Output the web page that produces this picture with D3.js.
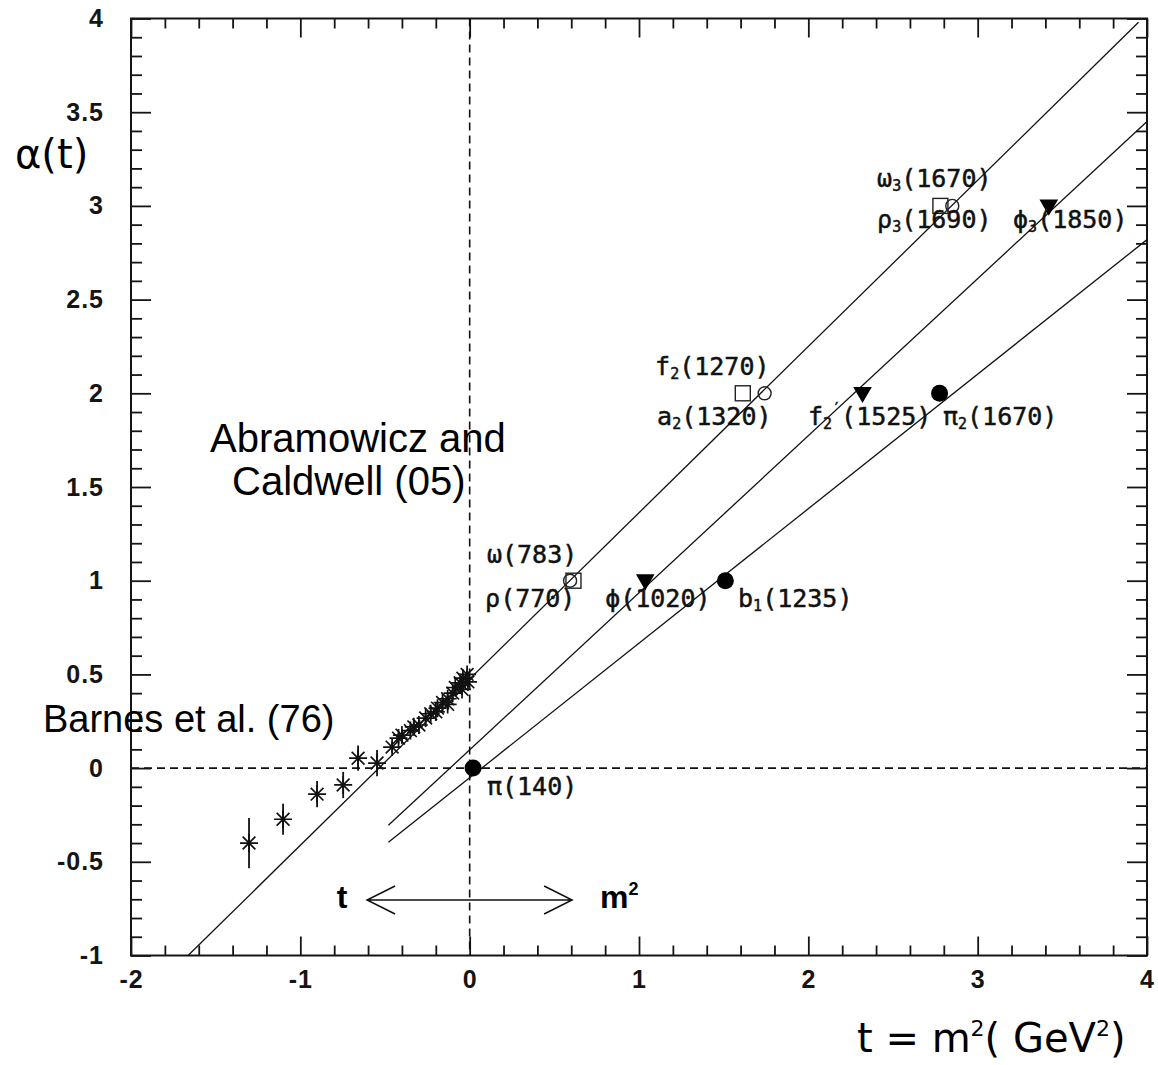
<!DOCTYPE html>
<html>
<head>
<meta charset="utf-8">
<title>Regge trajectories</title>
<script src="https://d3js.org/d3.v7.min.js"></script>
<style>
  html, body { margin:0; padding:0; background:#fff; overflow:hidden }
  svg { display:block }
  .axis .tick text { font-family:"Liberation Sans", Arial, sans-serif; font-weight:bold; font-size:25px; fill:#151515; letter-spacing:1px }
  .axis .tick line { stroke:#151515; stroke-width:1.8 }
  .lbl { font-family:"DejaVu Sans Mono", monospace; font-size:25px; fill:#111; stroke:#111; stroke-width:0.5 }
  .note { font-family:"Liberation Sans", Arial, sans-serif; fill:#000 }
</style>
</head>
<body>
<svg></svg>
<script>
// axis ticks
const xTicks = [-2, -1, 0, 1, 2, 3, 4];
const yTicks = [-1, -0.5, 0, 0.5, 1, 1.5, 2, 2.5, 3, 3.5, 4];

// Barnes et al. (76) points: t, alpha, error
const barnesT = [-1.303, -1.102, -0.901, -0.747, -0.659, -0.547, -0.458, -0.42, -0.40, -0.35, -0.33, -0.30,
                 -0.26, -0.23, -0.20, -0.19, -0.16, -0.13, -0.13, -0.10, -0.085, -0.056, -0.045, -0.04, -0.015, -0.01];
const barnesA = [-0.40, -0.273, -0.139, -0.09, 0.053, 0.027, 0.112, 0.16, 0.176, 0.20, 0.22, 0.23,
                 0.267, 0.29, 0.30, 0.32, 0.35, 0.34, 0.37, 0.40, 0.43, 0.455, 0.42, 0.48, 0.50, 0.46];
const barnesErr = [0.134, 0.083, 0.07, 0.07, 0.067, 0.07, 0.03, 0.03, 0.03, 0.03, 0.03, 0.03,
                   0.03, 0.03, 0.03, 0.03, 0.03, 0.03, 0.03, 0.03, 0.03, 0.03, 0.03, 0.03, 0.03, 0.03];

// mesons (m^2, spin)
const omegaT = [0.613, 1.613, 2.78];   const omegaA = [1, 2, 3];   // open squares
const rhoT   = [0.593, 1.742, 2.85];   const rhoA   = [1, 2, 3];   // open circles
const phiT   = [1.037, 2.32, 3.42];    const phiA   = [1, 2, 3];   // filled triangles
const piT    = [0.02, 1.51, 2.775];    const piA    = [0, 1, 2];   // filled circles

// trajectory lines (end points)
const rhoLine = [[-1.663, -1], [3.95, 3.98]];
const phiLine = [[-0.48, -0.305], [4, 3.45]];
const piLine  = [[-0.48, -0.396], [4, 2.82]];

// particle labels
const labels = [
  {name: "ω", sub: "",  prime: false, mass: "(783)",  t: 0.102, a: 1.094},
  {name: "ρ", sub: "",  prime: false, mass: "(770)",  t: 0.091, a: 0.860},
  {name: "ϕ", sub: "",  prime: false, mass: "(1020)", t: 0.800, a: 0.860},
  {name: "b", sub: "1", prime: false, mass: "(1235)", t: 1.585, a: 0.860},
  {name: "f", sub: "2", prime: false, mass: "(1270)", t: 1.095, a: 2.098},
  {name: "a", sub: "2", prime: false, mass: "(1320)", t: 1.107, a: 1.831},
  {name: "f", sub: "2", prime: true,  mass: "(1525)", t: 1.998, a: 1.831},
  {name: "π", sub: "2", prime: false, mass: "(1670)", t: 2.795, a: 1.831},
  {name: "ω", sub: "3", prime: false, mass: "(1670)", t: 2.406, a: 3.101},
  {name: "ρ", sub: "3", prime: false, mass: "(1690)", t: 2.406, a: 2.882},
  {name: "ϕ", sub: "3", prime: false, mass: "(1850)", t: 3.209, a: 2.882},
  {name: "π", sub: "",  prime: false, mass: "(140)",  t: 0.102, a: -0.144}
];

const notes = [
  {text: "Abramowicz and", t: -1.533, a: 1.687, size: 40},
  {text: "Caldwell (05)", t: -1.403, a: 1.457, size: 40},
  {text: "Barnes et al. (76)", t: -2.52, a: 0.193, size: 38}
];

const arrowSpan = [-0.606, 0.605];
const arrowLevel = -0.704;

const width = 1158, height = 1065;
const margin = {top: 18.5, right: 11, bottom: 109.5, left: 131};

const x = d3.scaleLinear().domain([-2, 4]).range([margin.left, width - margin.right]);
const y = d3.scaleLinear().domain([-1, 4]).range([height - margin.bottom, margin.top]);

const svg = d3.select("svg").attr("width", width).attr("height", height);

const xMinor = d3.range(-2, 4.001, 0.2).filter(v => Math.abs(v - Math.round(v)) > 1e-6);
const yMinor = d3.range(-1, 4.001, 0.1).filter(v => Math.abs(v * 2 - Math.round(v * 2)) > 1e-6);

function axisGroup(axis, tr) {
  svg.append("g").attr("class", "axis").attr("transform", tr).call(axis)
    .call(g => g.select(".domain").remove());
}

// bottom
axisGroup(d3.axisBottom(x).tickValues(xTicks).tickSize(-19).tickPadding(15).tickFormat(d => String(d)), `translate(0,${y(-1)})`);
axisGroup(d3.axisBottom(x).tickValues(xMinor).tickSize(-10).tickFormat(""), `translate(0,${y(-1)})`);
// top
axisGroup(d3.axisTop(x).tickValues(xTicks).tickSize(-19).tickFormat(""), `translate(0,${y(4)})`);
axisGroup(d3.axisTop(x).tickValues(xMinor).tickSize(-10).tickFormat(""), `translate(0,${y(4)})`);
// left
axisGroup(d3.axisLeft(y).tickValues(yTicks).tickSize(-20).tickPadding(27).tickFormat(d => String(d)), `translate(${x(-2)},0)`);
axisGroup(d3.axisLeft(y).tickValues(yMinor).tickSize(-11).tickFormat(""), `translate(${x(-2)},0)`);
// right
axisGroup(d3.axisRight(y).tickValues(yTicks).tickSize(-20).tickFormat(""), `translate(${x(4)},0)`);
axisGroup(d3.axisRight(y).tickValues(yMinor).tickSize(-11).tickFormat(""), `translate(${x(4)},0)`);

// frame
svg.append("rect")
  .attr("x", x(-2)).attr("y", y(4))
  .attr("width", x(4) - x(-2)).attr("height", y(-1) - y(4))
  .attr("fill", "none").attr("stroke", "#151515").attr("stroke-width", 2);

// dashed zero lines
svg.append("line")
  .attr("x1", x(0)).attr("x2", x(0)).attr("y1", y(4)).attr("y2", y(-1))
  .attr("stroke", "#111").attr("stroke-width", 1.6).attr("stroke-dasharray", "8,5");
svg.append("line")
  .attr("x1", x(-2)).attr("x2", x(4)).attr("y1", y(0)).attr("y2", y(0))
  .attr("stroke", "#111").attr("stroke-width", 1.6).attr("stroke-dasharray", "8,5");

// trajectories
const line = d3.line().x(d => x(d[0])).y(d => y(d[1]));
svg.selectAll(".traj")
  .data([rhoLine, phiLine, piLine])
  .enter()
  .append("path")
  .attr("class", "traj")
  .attr("d", line)
  .attr("fill", "none")
  .attr("stroke", "#111")
  .attr("stroke-width", 1.3);

// Barnes points: error bars + asterisks
const barnes = barnesT.map((t, i) => ({t: t, a: barnesA[i], e: barnesErr[i]}));
svg.selectAll(".err")
  .data(barnes)
  .enter()
  .append("line")
  .attr("x1", d => x(d.t)).attr("x2", d => x(d.t))
  .attr("y1", d => y(d.a - d.e)).attr("y2", d => y(d.a + d.e))
  .attr("stroke", "#111").attr("stroke-width", 1.8);

function asterisk(cx, cy, r) {
  const p = d3.path();
  const k = r * Math.SQRT1_2;
  p.moveTo(cx - r, cy); p.lineTo(cx + r, cy);
  p.moveTo(cx, cy - r); p.lineTo(cx, cy + r);
  p.moveTo(cx - k, cy - k); p.lineTo(cx + k, cy + k);
  p.moveTo(cx - k, cy + k); p.lineTo(cx + k, cy - k);
  return p.toString();
}
svg.selectAll(".star")
  .data(barnes)
  .enter()
  .append("path")
  .attr("d", d => asterisk(x(d.t), y(d.a), 9))
  .attr("stroke", "#111").attr("stroke-width", 1.7).attr("fill", "none");

// meson markers
const omegas = omegaT.map((t, i) => ({t: t, a: omegaA[i]}));
const rhos = rhoT.map((t, i) => ({t: t, a: rhoA[i]}));
const phis = phiT.map((t, i) => ({t: t, a: phiA[i]}));
const pis = piT.map((t, i) => ({t: t, a: piA[i]}));

svg.selectAll(".sq")
  .data(omegas)
  .enter()
  .append("rect")
  .attr("x", d => x(d.t) - 7.5).attr("y", d => y(d.a) - 7.5)
  .attr("width", 15).attr("height", 15)
  .attr("fill", "none").attr("stroke", "#222").attr("stroke-width", 1.4);

svg.selectAll(".oc")
  .data(rhos)
  .enter()
  .append("circle")
  .attr("cx", d => x(d.t)).attr("cy", d => y(d.a)).attr("r", 6.5)
  .attr("fill", "none").attr("stroke", "#222").attr("stroke-width", 1.4);

svg.selectAll(".tri")
  .data(phis)
  .enter()
  .append("path")
  .attr("d", d3.symbol(d3.symbolTriangle, 150))
  .attr("transform", d => `translate(${x(d.t)},${y(d.a) - 1}) rotate(180)`)
  .attr("fill", "#000");

svg.selectAll(".fc")
  .data(pis)
  .enter()
  .append("circle")
  .attr("cx", d => x(d.t)).attr("cy", d => y(d.a)).attr("r", 8.5)
  .attr("fill", "#000");

// particle labels
svg.selectAll(".lbl")
  .data(labels)
  .enter()
  .append("text")
  .attr("class", "lbl")
  .attr("x", d => x(d.t))
  .attr("y", d => y(d.a))
  .each(function(d) {
    const txt = d3.select(this);
    let shift = 0;
    txt.append("tspan").text(d.name);
    if (d.sub) {
      txt.append("tspan").attr("font-size", 15).attr("dy", 4).text(d.sub);
      shift += 4;
    }
    if (d.prime) {
      txt.append("tspan").attr("font-size", 15).attr("dy", -15).text("′");
      shift -= 15;
    }
    txt.append("tspan").attr("dy", -shift).text(d.mass);
  });

// literature notes
svg.selectAll(".note")
  .data(notes)
  .enter()
  .append("text")
  .attr("class", "note")
  .attr("x", d => x(d.t))
  .attr("y", d => y(d.a))
  .attr("font-size", d => d.size)
  .text(d => d.text);

// t <-> m^2 arrow
const ay = y(arrowLevel);
const ax0 = x(arrowSpan[0]), ax1 = x(arrowSpan[1]);
const arr = d3.path();
arr.moveTo(ax0, ay); arr.lineTo(ax1, ay);
arr.moveTo(ax0 + 28, ay - 14); arr.lineTo(ax0, ay); arr.lineTo(ax0 + 28, ay + 14);
arr.moveTo(ax1 - 28, ay - 14); arr.lineTo(ax1, ay); arr.lineTo(ax1 - 28, ay + 14);
svg.append("path").attr("d", arr.toString())
  .attr("fill", "none").attr("stroke", "#111").attr("stroke-width", 1.5);

svg.append("text")
  .attr("x", x(-0.754)).attr("y", y(-0.747))
  .attr("text-anchor", "middle")
  .attr("font-family", "Liberation Sans, Arial, sans-serif")
  .attr("font-weight", "bold").attr("font-size", 32)
  .text("t");
const m2 = svg.append("text")
  .attr("x", x(0.770)).attr("y", y(-0.747))
  .attr("font-family", "Liberation Sans, Arial, sans-serif")
  .attr("font-weight", "bold").attr("font-size", 32);
m2.append("tspan").text("m");
m2.append("tspan").attr("font-size", 18).attr("dy", -13).text("2");

// axis titles
svg.append("text")
  .attr("x", 15).attr("y", 168)
  .attr("font-family", "DejaVu Sans, sans-serif")
  .attr("font-size", 40)
  .text("α(t)");

const xt = svg.append("text")
  .attr("x", 857).attr("y", 1052)
  .attr("font-family", "DejaVu Sans, sans-serif")
  .attr("font-size", 40);
xt.append("tspan").text("t = m");
xt.append("tspan").attr("font-size", 22).attr("dy", -16).text("2");
xt.append("tspan").attr("dy", 16).text("( GeV");
xt.append("tspan").attr("font-size", 22).attr("dy", -16).text("2");
xt.append("tspan").attr("dy", 16).text(")");
</script>
</body>
</html>
